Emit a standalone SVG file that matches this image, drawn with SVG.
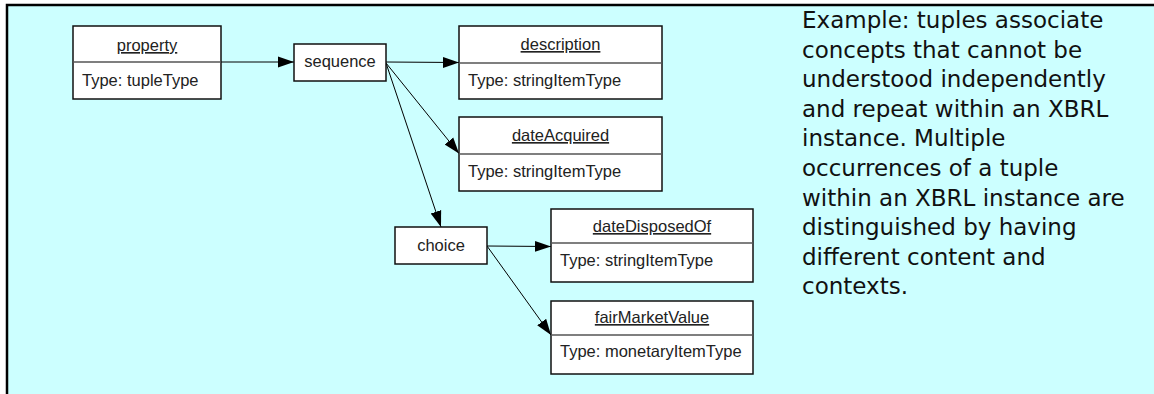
<svg xmlns="http://www.w3.org/2000/svg" width="1154" height="394" viewBox="0 0 1154 394">
<style>
.box{fill:#fff;stroke:#111;stroke-width:1.5}
.div{stroke:#555;stroke-width:1.5}
.t{font-family:"Liberation Sans",Arial,sans-serif;font-size:16.5px;fill:#222}
.title{text-anchor:middle;text-decoration:underline}
.c{text-anchor:middle}
.conn{fill:none;stroke:#000;stroke-width:1}
.note{font-family:"DejaVu Sans",Verdana,sans-serif;font-size:23px;fill:#111}
</style>
<defs>
<marker id="arr" markerUnits="userSpaceOnUse" markerWidth="17" markerHeight="13" viewBox="0 0 17 13" refX="16" refY="6.5" orient="auto">
<path d="M0,1 L16,6.5 L0,12 Z" fill="#000"/>
</marker>
</defs>
<rect x="0" y="0" width="1154" height="394" fill="#fff"/>
<rect x="7" y="5" width="1160" height="400" fill="#CCFFFF" stroke="#000" stroke-width="2.5"/>

<g id="connectors">
<path class="conn" d="M221,62 L294,62" marker-end="url(#arr)"/>
<path class="conn" d="M386,62 L459,62.5" marker-end="url(#arr)"/>
<path class="conn" d="M386,63 L459,153.5" marker-end="url(#arr)"/>
<path class="conn" d="M386,63 L441,227" marker-end="url(#arr)"/>
<path class="conn" d="M487,246 L551,246.5" marker-end="url(#arr)"/>
<path class="conn" d="M487,246 L551,335" marker-end="url(#arr)"/>
</g>

<g id="property">
<rect class="box" x="73" y="26" width="148" height="73"/>
<line class="div" x1="73" y1="62" x2="221" y2="62"/>
<text class="t title" x="147" y="51">property</text>
<text class="t" x="82" y="86">Type: tupleType</text>
</g>

<g id="sequence">
<rect class="box" x="294" y="44" width="92" height="37"/>
<text class="t c" x="340" y="67">sequence</text>
</g>

<g id="description">
<rect class="box" x="459" y="26" width="203" height="73"/>
<line class="div" x1="459" y1="63" x2="662" y2="63"/>
<text class="t title" x="560.5" y="50">description</text>
<text class="t" x="468" y="86">Type: stringItemType</text>
</g>

<g id="dateAcquired">
<rect class="box" x="459" y="117" width="203" height="74"/>
<line class="div" x1="459" y1="154" x2="662" y2="154"/>
<text class="t title" x="560.5" y="141">dateAcquired</text>
<text class="t" x="468" y="177">Type: stringItemType</text>
</g>

<g id="choice">
<rect class="box" x="395" y="227" width="92" height="37"/>
<text class="t c" x="441" y="251">choice</text>
</g>

<g id="dateDisposedOf">
<rect class="box" x="551" y="209" width="202" height="73"/>
<line class="div" x1="551" y1="243" x2="753" y2="243"/>
<text class="t title" x="652" y="232">dateDisposedOf</text>
<text class="t" x="560" y="266">Type: stringItemType</text>
</g>

<g id="fairMarketValue">
<rect class="box" x="551" y="301" width="202" height="73"/>
<line class="div" x1="551" y1="335" x2="753" y2="335"/>
<text class="t title" x="652" y="323">fairMarketValue</text>
<text class="t" x="560" y="357">Type: monetaryItemType</text>
</g>

<g id="note">
<text class="note" x="802" y="28">Example: tuples associate</text>
<text class="note" x="802" y="57.6">concepts that cannot be</text>
<text class="note" x="802" y="87.2">understood independently</text>
<text class="note" x="802" y="116.8">and repeat within an XBRL</text>
<text class="note" x="802" y="146.4">instance. Multiple</text>
<text class="note" x="802" y="176">occurrences of a tuple</text>
<text class="note" x="802" y="205.6">within an XBRL instance are</text>
<text class="note" x="802" y="235.2">distinguished by having</text>
<text class="note" x="802" y="264.8">different content and</text>
<text class="note" x="802" y="294.4">contexts.</text>
</g>
</svg>
